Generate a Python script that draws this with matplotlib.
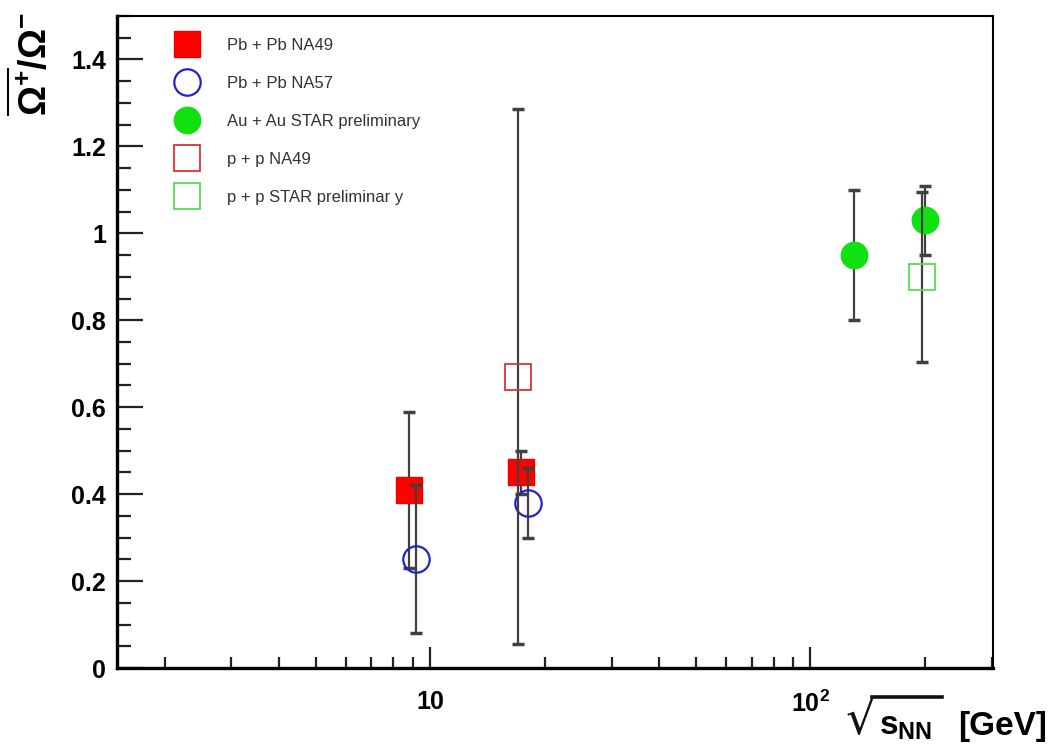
import matplotlib
matplotlib.use("Agg")
import matplotlib.pyplot as plt
from matplotlib.lines import Line2D
from matplotlib.ticker import FixedLocator, FixedFormatter, MultipleLocator, NullFormatter

plt.rcParams['font.family'] = ['Liberation Sans', 'DejaVu Sans']
plt.rcParams['mathtext.fontset'] = 'custom'
plt.rcParams['mathtext.rm'] = 'Liberation Sans'
plt.rcParams['mathtext.it'] = 'Liberation Sans'
plt.rcParams['mathtext.bf'] = 'Liberation Sans:bold'

# data
pbpb_na49_x = [8.8, 17.3]
pbpb_na49_y = [0.41, 0.45]
pbpb_na49_err = [0.18, 0.05]

pbpb_na57_x = [9.2, 18.1]
pbpb_na57_y = [0.25, 0.38]
pbpb_na57_err = [0.17, 0.08]

auau_star_x = [130, 200]
auau_star_y = [0.95, 1.03]
auau_star_err = [0.15, 0.08]

pp_na49_x = [17.0]
pp_na49_y = [0.67]
pp_na49_err = [0.615]

pp_star_x = [196]
pp_star_y = [0.90]
pp_star_err = [0.195]

y_ticks = [0, 0.2, 0.4, 0.6, 0.8, 1.0, 1.2, 1.4]
x_ticks = [10, 100]
x_tick_labels = ['10', r'$\mathbf{10^{2}}$']

fig = plt.figure(figsize=(10.5, 7.44), dpi=100)
ax = fig.add_axes([117 / 1050, 1 - 668 / 744, (993 - 117) / 1050, (668 - 16) / 744])

bar_kw = dict(fmt='none', ecolor='#404040', elinewidth=1.6, capsize=4, capthick=2.5)
ms = 19

ax.errorbar(pbpb_na49_x, pbpb_na49_y, yerr=pbpb_na49_err, **bar_kw)
ax.plot(pbpb_na49_x, pbpb_na49_y, 's', ms=ms, color='#ff0000', mec='#ee0000',
        ls='none', label='Pb + Pb NA49')

ax.errorbar(pbpb_na57_x, pbpb_na57_y, yerr=pbpb_na57_err, **bar_kw)
ax.plot(pbpb_na57_x, pbpb_na57_y, 'o', ms=ms, mfc='none', mec='#2222cc', mew=1.6,
        ls='none', label='Pb + Pb NA57')

ax.errorbar(auau_star_x, auau_star_y, yerr=auau_star_err, **bar_kw)
ax.plot(auau_star_x, auau_star_y, 'o', ms=ms, color='#11e011', mec='#11e011',
        ls='none', label='Au + Au STAR preliminary')

ax.errorbar(pp_na49_x, pp_na49_y, yerr=pp_na49_err, **bar_kw)
ax.plot(pp_na49_x, pp_na49_y, 's', ms=ms, mfc='none', mec='#dd3333', mew=1.3,
        ls='none', label='p + p NA49')

ax.errorbar(pp_star_x, pp_star_y, yerr=pp_star_err, **bar_kw)
ax.plot(pp_star_x, pp_star_y, 's', ms=ms, mfc='none', mec='#55dd55', mew=1.3,
        ls='none', label='p + p STAR preliminar y')

ax.set_xscale('log')
ax.set_xlim(1.5, 302)
ax.set_ylim(0, 1.5)

ax.xaxis.set_major_locator(FixedLocator(x_ticks))
ax.xaxis.set_major_formatter(FixedFormatter(x_tick_labels))
minors = [v * d for d in (1, 10, 100) for v in range(2, 10)]
ax.xaxis.set_minor_locator(FixedLocator([m for m in minors if 1.5 < m < 302]))
ax.xaxis.set_minor_formatter(NullFormatter())

ax.yaxis.set_major_locator(FixedLocator(y_ticks))
ax.yaxis.set_major_formatter(FixedFormatter([f'{v:g}' for v in y_ticks]))
ax.yaxis.set_minor_locator(MultipleLocator(0.05))

ax.tick_params(axis='both', which='both', direction='in', top=False, right=False,
               color='#222222')
ax.tick_params(axis='y', which='major', length=19, width=1.6, labelsize=18, pad=8)
ax.tick_params(axis='y', which='minor', length=10, width=1.6)
ax.tick_params(axis='x', which='major', length=15, width=1.6, labelsize=18, pad=16)
ax.tick_params(axis='x', which='minor', length=8, width=1.6)
for lab in ax.get_xticklabels() + ax.get_yticklabels():
    lab.set_fontweight('bold')

for side in ('left', 'bottom'):
    ax.spines[side].set_linewidth(2.4)
for side in ('top', 'right'):
    ax.spines[side].set_linewidth(1.5)

# x axis title: tall radical sign, bar over s_NN, then unit
fig.text(846 / 1050, 1 - 744 / 744, '\u221a', ha='left', va='bottom',
         fontsize=34, family='DejaVu Sans', fontweight='normal', color='#111111')
fig.add_artist(Line2D([872 / 1050, 942 / 1050], [1 - 697 / 744, 1 - 697 / 744],
                      transform=fig.transFigure, color='#111111', lw=2.6))
fig.text(879 / 1050, 1 - 742 / 744, r'$\mathbf{s_{NN}}$', ha='left', va='bottom',
         fontsize=24, fontweight='bold')
fig.text(1047 / 1050, 1 - 742 / 744, '[GeV]', ha='right', va='bottom',
         fontsize=24, fontweight='bold')

fig.text(32 / 1050, 1 - 12 / 744, r'$\mathbf{\overline{\Omega^{+}}/\Omega^{-}}$',
         rotation=90, ha='center', va='top', fontsize=27, fontweight='bold')

ax.legend(loc='upper left', bbox_to_anchor=(170 / 1050, 1 - 38 / 744),
          bbox_transform=fig.transFigure, frameon=False, fontsize=12,
          handlelength=2.0, handletextpad=1.4, labelspacing=1.38,
          borderpad=0, borderaxespad=0, numpoints=1, labelcolor='#333333')

fig.savefig('out.png', dpi=100)
